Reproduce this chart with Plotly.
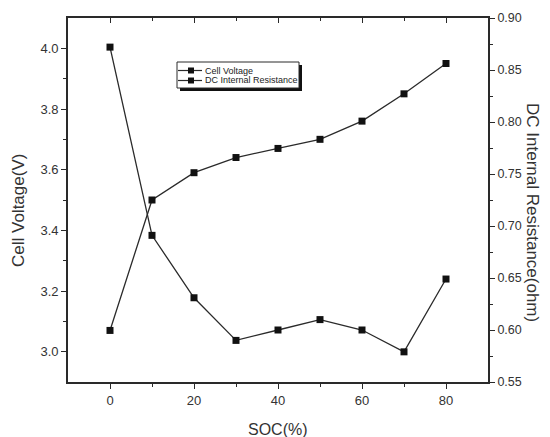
import plotly.graph_objects as go

# State of charge (%)
soc = [0, 10, 20, 30, 40, 50, 60, 70, 80]
# Cell voltage (V), left axis
cell_voltage = [3.07, 3.50, 3.59, 3.64, 3.67, 3.70, 3.76, 3.85, 3.95]
# DC internal resistance (ohm), right axis
dc_resistance = [0.872, 0.691, 0.631, 0.590, 0.600, 0.610, 0.600, 0.579, 0.649]

series_names = ["Cell Voltage", "DC Internal Resistance"]

FONT = "Liberation Sans, Arial, sans-serif"
INK = "#2a2a2a"
TXT = "#333333"

W, H = 550, 437
ML, MR, MT, MB = 68, 62, 18, 55
PW, PH = W - ML - MR, H - MT - MB


def px(xp):
    """pixel column -> paper x"""
    return (xp - ML) / PW


def py(yp):
    """pixel row -> paper y"""
    return (H - MB - yp) / PH


fig = go.Figure()

fig.add_trace(go.Scatter(
    x=soc, y=cell_voltage, name=series_names[0], mode="lines+markers",
    line=dict(color=INK, width=1.3),
    marker=dict(symbol="square", size=7, color="#111111"),
    yaxis="y", showlegend=False,
))
fig.add_trace(go.Scatter(
    x=soc, y=dc_resistance, name=series_names[1], mode="lines+markers",
    line=dict(color=INK, width=1.3),
    marker=dict(symbol="square", size=7, color="#111111"),
    yaxis="y2", showlegend=False,
))
# empty trace on the top axis so it gets drawn
fig.add_trace(go.Scatter(x=[None], y=[None], xaxis="x2", showlegend=False, hoverinfo="skip"))

axis_common = dict(
    showgrid=False, zeroline=False, showline=True, linecolor=INK, linewidth=1.8,
    ticks="outside", ticklen=5, tickwidth=1.2, tickcolor=INK,
    tickfont=dict(family=FONT, size=13, color=TXT),
)

fig.update_layout(
    width=W, height=H,
    margin=dict(l=ML, r=MR, t=MT, b=MB),
    paper_bgcolor="white", plot_bgcolor="white",
    font=dict(family=FONT, color=TXT),
    showlegend=False,
    xaxis=dict(
        **axis_common, range=[-10, 90], tickvals=[0, 20, 40, 60, 80],
        minor=dict(tickvals=[10, 30, 50, 70], ticks="outside", ticklen=3, tickcolor=INK),
    ),
    xaxis2=dict(
        overlaying="x", side="top", range=[-10, 90], showgrid=False, zeroline=False,
        showline=True, linecolor=INK, linewidth=1.8, showticklabels=False,
        ticks="inside", ticklen=5, tickwidth=1.2, tickcolor=INK,
        tickvals=[0, 20, 40, 60, 80],
        minor=dict(tickvals=[10, 30, 50, 70], ticks="inside", ticklen=3, tickcolor=INK),
    ),
    yaxis=dict(
        **axis_common, range=[2.9, 4.1], tickvals=[3.0, 3.2, 3.4, 3.6, 3.8, 4.0],
        tickformat=".1f",
        minor=dict(tickvals=[3.1, 3.3, 3.5, 3.7, 3.9], ticks="outside", ticklen=3, tickcolor=INK),
    ),
    yaxis2=dict(
        **axis_common, overlaying="y", side="right", range=[0.55, 0.90],
        tickvals=[0.55, 0.60, 0.65, 0.70, 0.75, 0.80, 0.85, 0.90], tickformat=".2f",
        minor=dict(tickvals=[0.575, 0.625, 0.675, 0.725, 0.775, 0.825, 0.875],
                   ticks="outside", ticklen=3, tickcolor=INK),
    ),
)
fig.update_layout(yaxis2_tickfont=dict(family=FONT, size=12.5, color=TXT))

# axis titles
title_font = dict(family=FONT, size=17, color=TXT)
fig.add_annotation(text="Cell Voltage(V)", xref="paper", yref="paper",
                   x=px(18), y=py(211), xanchor="center", yanchor="middle",
                   textangle=-90, showarrow=False, font=title_font)
fig.add_annotation(text="DC Internal Resistance(ohm)", xref="paper", yref="paper",
                   x=px(533), y=py(212), xanchor="center", yanchor="middle",
                   textangle=90, showarrow=False, font=title_font)
fig.add_annotation(text="SOC(%)", xref="paper", yref="paper",
                   x=px(278), y=py(429), xanchor="center", yanchor="middle",
                   showarrow=False, font=dict(family=FONT, size=16, color=TXT))

# legend box with drop shadow
fig.add_shape(type="rect", xref="paper", yref="paper",
              x0=px(180), x1=px(302), y0=py(91), y1=py(65),
              fillcolor="#111111", line=dict(width=0))
fig.add_shape(type="rect", xref="paper", yref="paper",
              x0=px(177), x1=px(299), y0=py(88), y1=py(62),
              fillcolor="white", line=dict(color=INK, width=1))
for name, row in zip(series_names, [70.5, 80.5]):
    fig.add_shape(type="line", xref="paper", yref="paper",
                  x0=px(178), x1=px(202), y0=py(row), y1=py(row),
                  line=dict(color=INK, width=1.2))
    fig.add_shape(type="rect", xref="paper", yref="paper",
                  x0=px(188), x1=px(194), y0=py(row + 3), y1=py(row - 3),
                  fillcolor="#111111", line=dict(width=0))
    fig.add_annotation(text=name, xref="paper", yref="paper", x=px(203), y=py(row),
                       xanchor="left", yanchor="middle", showarrow=False,
                       font=dict(family=FONT, size=9, color="#222222"))

fig.write_html("out.html")
